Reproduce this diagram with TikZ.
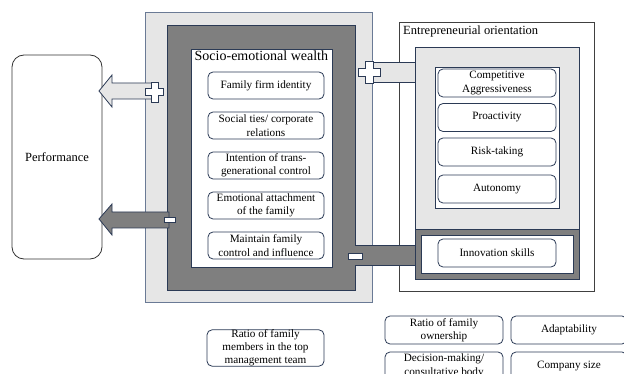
\documentclass[tikz,border=0pt]{standalone}
\usepackage{fontspec}
\setmainfont{Liberation Serif}
\definecolor{navy}{HTML}{2B3A55}
\definecolor{slate}{HTML}{6A7A95}
\definecolor{lgray}{HTML}{E6E6E6}
\definecolor{dgray}{HTML}{7F7F7F}
\definecolor{eoline}{HTML}{404040}
\tikzset{
  frame/.style={draw=navy, line width=0.8pt, inner sep=0pt},
  item/.style={draw=navy, line width=0.8pt, fill=white, rounded corners=5pt, inner sep=0pt,
    align=center, font=\fontsize{11.2}{13.5}\selectfont},
  ttl/.style={inner sep=0pt, anchor=north west, font=\fontsize{12.5}{14}\selectfont},
  band/.style={fill=lgray, draw=navy, line width=0.8pt},
  dband/.style={fill=dgray, draw=navy, line width=0.8pt},
  sign/.style={fill=white, draw=navy, line width=0.8pt},
}
\begin{document}
\begin{tikzpicture}[x=1pt,y=-1pt]
\useasboundingbox (0,0) rectangle (624,374);
\clip (0,0) rectangle (624,374);
\fill[white] (0,0) rectangle (624,374);

% Performance
\node[draw=black!80, line width=0.8pt, rounded corners=12pt, minimum width=90pt, minimum height=204pt,
  font=\fontsize{12.5}{14}\selectfont] (perf) at (57,157) {Performance};

% SEW nested boxes
\node[frame, draw=slate, fill=lgray, minimum width=227pt, minimum height=290pt] (sewout) at (258.5,157) {};
\node[frame, fill=dgray, minimum width=188pt, minimum height=265pt] (sewdark) at (261,157.5) {};
\node[frame, fill=white, minimum width=141pt, minimum height=218pt] (sewin) at (261.5,158) {};
\node[ttl, font=\fontsize{14}{16}\selectfont] (sewt) at (194.5,51) {Socio-emotional wealth};
\node[item, minimum width=116pt, minimum height=27pt] (s1) at (266,85.5) {Family firm identity};
\node[item, minimum width=116pt, minimum height=27pt] (s2) at (266,125.5) {Social ties/ corporate\\relations};
\node[item, minimum width=116pt, minimum height=27pt] (s3) at (266,165.5) {Intention of trans-\\generational control};
\node[item, minimum width=116pt, minimum height=27pt] (s4) at (266,205.5) {Emotional attachment\\of the family};
\node[item, minimum width=116pt, minimum height=27pt] (s5) at (266,245.5) {Maintain family\\control and influence};

% EO outer
\node[draw=eoline, line width=0.8pt, fill=white, minimum width=195pt, minimum height=269pt, inner sep=0pt] (eoout) at (496.5,156.5) {};
\node[ttl] (eot) at (403,26) {Entrepreneurial orientation};

% Connector bands to EO
\coordinate (lb1) at (369,62);
\coordinate (lb2) at (415,82);
\fill[lgray] (lb1) rectangle (lb2);
\draw[navy, line width=0.8pt] (lb1) -- (415,62) (369,82) -- (lb2);
\coordinate (db1) at (355,245);
\coordinate (db2) at (415,265);
\fill[dgray] (db1) rectangle (db2);
\draw[navy, line width=0.8pt] (db1) -- (415,245) (355,265) -- (db2);

% EO inner boxes
\node[frame, fill=lgray, minimum width=164pt, minimum height=182pt] (eolight) at (497,138) {};
\node[frame, fill=white, minimum width=124pt, minimum height=141pt] (eowhite) at (497,137.5) {};
\node[item, minimum width=118pt, minimum height=28pt] (e1) at (497,83) {Competitive\\Aggressiveness};
\node[item, minimum width=118pt, minimum height=28pt] (e2) at (497,117.5) {Proactivity};
\node[item, minimum width=118pt, minimum height=28pt] (e3) at (497,152) {Risk-taking};
\node[item, minimum width=118pt, minimum height=28pt] (e4) at (497,189) {Autonomy};
\node[frame, fill=dgray, minimum width=164pt, minimum height=50pt] (eodark) at (497,254) {};
\node[frame, fill=white, minimum width=152pt, minimum height=38pt] (eoinw) at (497,254) {};
\node[item, minimum width=118pt, minimum height=28pt] (inn) at (497,253) {Innovation skills};

% right-side signs
\draw[sign] (365,61) -- (373,61) -- (373,68) -- (380,68) -- (380,76) -- (373,76) -- (373,83)
  -- (365,83) -- (365,76) -- (358,76) -- (358,68) -- (365,68) -- cycle;
\draw[sign] (348,253) rectangle (362,259);

% left block arrows
\draw[band] (99,91) -- (112,75) -- (112,83) -- (155,83) -- (155,99) -- (112,99) -- (112,107) -- cycle;
\draw[sign] (151,82) -- (158,82) -- (158,88.5) -- (163,88.5) -- (163,95.5) -- (158,95.5) -- (158,102)
  -- (151,102) -- (151,95.5) -- (145,95.5) -- (145,88.5) -- (151,88.5) -- cycle;
\draw[dband] (99,219) -- (112,204) -- (112,212) -- (169,212) -- (169,228) -- (112,228) -- (112,235) -- cycle;
\draw[sign] (164,217) rectangle (175,222.5);

% bottom boxes
\node[item, minimum width=117pt, minimum height=36pt, font=\fontsize{11.2}{13}\selectfont] (b1) at (265.5,348)
  {Ratio of family\\members in the top\\management team};
\node[item, minimum width=118pt, minimum height=28pt] (b2) at (444,330) {Ratio of family\\ownership};
\node[item, minimum width=116pt, minimum height=28pt] (b3) at (569,330) {Adaptability};
\node[item, minimum width=118pt, minimum height=28pt] (b4) at (444,366) {Decision-making/\\consultative body};
\node[item, minimum width=116pt, minimum height=28pt] (b5) at (569,366) {Company size};
\end{tikzpicture}
\end{document}
